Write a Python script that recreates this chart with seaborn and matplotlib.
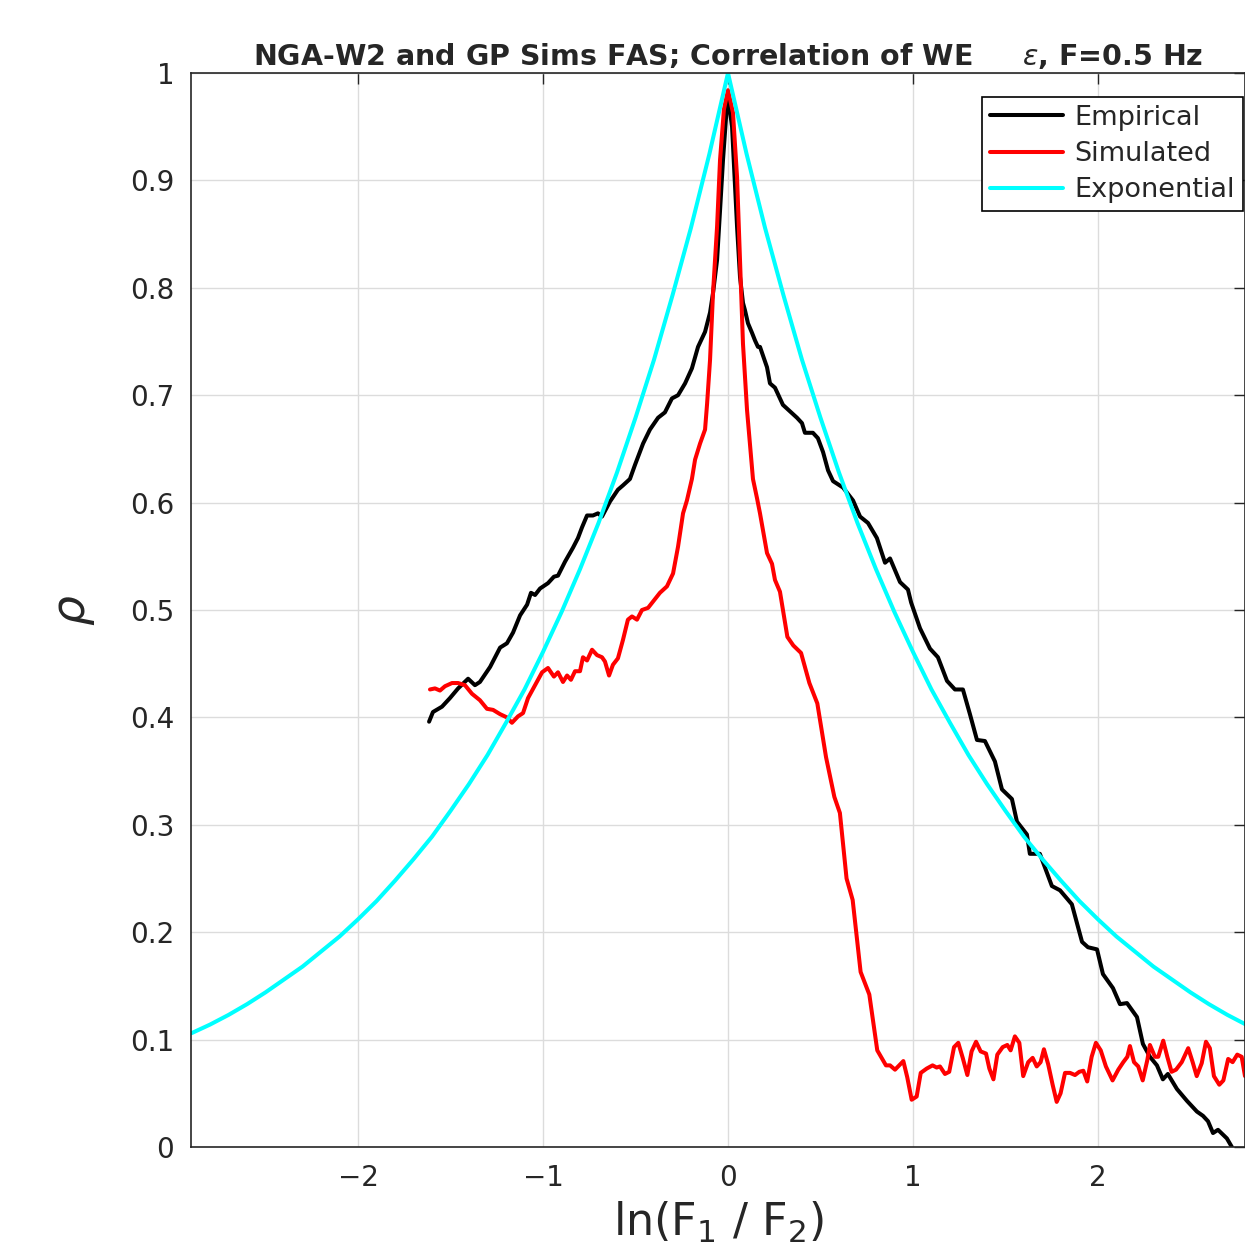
import numpy as np
import pandas as pd
import matplotlib
matplotlib.use("Agg")
import matplotlib.pyplot as plt
import seaborn as sns

# =======================
# Data
# =======================
emp_x = [-1.616, -1.595, -1.546, -1.503, -1.459, -1.405, -1.368, -1.341, -1.286, -1.232,
         -1.195, -1.162, -1.124, -1.086, -1.065, -1.043, -1.016, -0.973, -0.941, -0.919,
         -0.881, -0.838, -0.811, -0.789, -0.762, -0.730, -0.703, -0.681, -0.638, -0.595,
         -0.568, -0.530, -0.503, -0.459, -0.422, -0.378, -0.341, -0.303, -0.270, -0.232,
         -0.195, -0.162, -0.124, -0.097, -0.081, -0.059, -0.043, -0.027, -0.005, 0.000,
         0.022, 0.049, 0.065, 0.081, 0.092, 0.108, 0.130, 0.146, 0.162, 0.173,
         0.211, 0.227, 0.254, 0.297, 0.335, 0.373, 0.400, 0.416, 0.459, 0.486,
         0.514, 0.541, 0.568, 0.622, 0.676, 0.714, 0.757, 0.805, 0.849, 0.876,
         0.930, 0.973, 0.990, 1.038, 1.092, 1.135, 1.184, 1.227, 1.270, 1.308,
         1.346, 1.389, 1.443, 1.481, 1.535, 1.562, 1.616, 1.632, 1.686, 1.751,
         1.795, 1.859, 1.914, 1.946, 1.995, 2.027, 2.081, 2.119, 2.157, 2.211,
         2.243, 2.281, 2.319, 2.351, 2.378, 2.427, 2.481, 2.535, 2.568, 2.595,
         2.622, 2.649, 2.697, 2.724]
emp_y = [0.396, 0.405, 0.410, 0.418, 0.427, 0.436, 0.430, 0.433, 0.447, 0.465,
         0.469, 0.479, 0.495, 0.505, 0.516, 0.514, 0.520, 0.525, 0.531, 0.532,
         0.545, 0.558, 0.567, 0.577, 0.588, 0.588, 0.590, 0.587, 0.601, 0.612,
         0.616, 0.622, 0.635, 0.655, 0.668, 0.679, 0.684, 0.697, 0.700, 0.711,
         0.725, 0.745, 0.759, 0.777, 0.795, 0.826, 0.872, 0.919, 0.972, 0.978,
         0.950, 0.857, 0.810, 0.786, 0.779, 0.767, 0.758, 0.751, 0.745, 0.745,
         0.726, 0.711, 0.707, 0.691, 0.685, 0.679, 0.674, 0.665, 0.665, 0.660,
         0.647, 0.630, 0.620, 0.614, 0.602, 0.587, 0.581, 0.567, 0.544, 0.548,
         0.526, 0.519, 0.507, 0.483, 0.464, 0.456, 0.434, 0.426, 0.426, 0.403,
         0.379, 0.378, 0.359, 0.333, 0.324, 0.303, 0.291, 0.273, 0.273, 0.243,
         0.239, 0.226, 0.191, 0.186, 0.184, 0.161, 0.148, 0.133, 0.134, 0.121,
         0.096, 0.084, 0.076, 0.063, 0.068, 0.054, 0.043, 0.033, 0.029, 0.024,
         0.013, 0.016, 0.008, 0.000]

sim_x = [-1.611, -1.584, -1.557, -1.530, -1.492, -1.459, -1.422, -1.384, -1.341, -1.303,
         -1.270, -1.232, -1.195, -1.168, -1.135, -1.108, -1.081, -1.043, -1.005, -0.973,
         -0.941, -0.919, -0.892, -0.870, -0.849, -0.827, -0.800, -0.784, -0.762, -0.735,
         -0.708, -0.681, -0.665, -0.643, -0.622, -0.595, -0.568, -0.541, -0.519, -0.492,
         -0.465, -0.432, -0.395, -0.368, -0.330, -0.297, -0.270, -0.243, -0.222, -0.195,
         -0.178, -0.151, -0.124, -0.113, -0.097, -0.081, -0.059, -0.043, -0.022, 0.000,
         0.027, 0.049, 0.065, 0.081, 0.103, 0.135, 0.157, 0.173, 0.211, 0.238,
         0.254, 0.281, 0.321, 0.353, 0.395, 0.440, 0.483, 0.530, 0.575, 0.605,
         0.641, 0.674, 0.717, 0.764, 0.807, 0.854, 0.876, 0.903, 0.948, 0.969,
         0.993, 1.020, 1.042, 1.074, 1.106, 1.128, 1.146, 1.173, 1.196, 1.222,
         1.245, 1.269, 1.294, 1.317, 1.341, 1.366, 1.395, 1.413, 1.435, 1.456,
         1.485, 1.510, 1.528, 1.551, 1.575, 1.596, 1.623, 1.647, 1.669, 1.690,
         1.708, 1.731, 1.755, 1.777, 1.798, 1.822, 1.849, 1.876, 1.899, 1.921,
         1.942, 1.966, 1.989, 2.015, 2.043, 2.079, 2.110, 2.137, 2.159, 2.173,
         2.195, 2.218, 2.242, 2.267, 2.281, 2.308, 2.326, 2.353, 2.375, 2.398,
         2.422, 2.453, 2.488, 2.512, 2.534, 2.561, 2.584, 2.605, 2.627, 2.656,
         2.678, 2.704, 2.728, 2.753, 2.777, 2.795]
sim_y = [0.426, 0.427, 0.425, 0.429, 0.432, 0.432, 0.430, 0.422, 0.416, 0.408,
         0.407, 0.403, 0.400, 0.395, 0.401, 0.404, 0.418, 0.430, 0.442, 0.446,
         0.438, 0.442, 0.433, 0.439, 0.435, 0.443, 0.443, 0.456, 0.453, 0.463,
         0.458, 0.456, 0.452, 0.439, 0.449, 0.455, 0.472, 0.491, 0.494, 0.491,
         0.500, 0.502, 0.510, 0.516, 0.522, 0.534, 0.559, 0.590, 0.602, 0.622,
         0.640, 0.655, 0.668, 0.692, 0.733, 0.795, 0.857, 0.919, 0.966, 0.984,
         0.963, 0.903, 0.826, 0.748, 0.686, 0.622, 0.604, 0.590, 0.553, 0.543,
         0.528, 0.517, 0.475, 0.467, 0.460, 0.432, 0.413, 0.363, 0.326, 0.311,
         0.250, 0.230, 0.163, 0.142, 0.090, 0.076, 0.076, 0.072, 0.080, 0.065,
         0.044, 0.047, 0.069, 0.073, 0.076, 0.074, 0.075, 0.068, 0.070, 0.093,
         0.097, 0.083, 0.067, 0.089, 0.098, 0.089, 0.087, 0.073, 0.063, 0.086,
         0.093, 0.095, 0.090, 0.103, 0.097, 0.066, 0.079, 0.083, 0.075, 0.079,
         0.091, 0.077, 0.058, 0.042, 0.050, 0.069, 0.069, 0.067, 0.070, 0.071,
         0.061, 0.084, 0.097, 0.090, 0.075, 0.062, 0.072, 0.079, 0.084, 0.094,
         0.079, 0.075, 0.062, 0.081, 0.095, 0.084, 0.084, 0.099, 0.084, 0.070,
         0.072, 0.079, 0.092, 0.079, 0.066, 0.078, 0.098, 0.092, 0.066, 0.058,
         0.062, 0.082, 0.079, 0.086, 0.084, 0.066]

exp_x = [-2.9, -2.8, -2.7, -2.6, -2.5, -2.4, -2.3, -2.2, -2.1, -2.0,
         -1.9, -1.8, -1.7, -1.6, -1.5, -1.4, -1.3, -1.2, -1.1, -1.0,
         -0.9, -0.8, -0.7, -0.6, -0.5, -0.4, -0.3, -0.2, -0.1, 0.0,
         0.1, 0.2, 0.3, 0.4, 0.5, 0.6, 0.7, 0.8, 0.9, 1.0,
         1.1, 1.2, 1.3, 1.4, 1.5, 1.6, 1.7, 1.8, 1.9, 2.0,
         2.1, 2.2, 2.3, 2.4, 2.5, 2.6, 2.7, 2.8]
exp_y = [0.106, 0.114, 0.123, 0.133, 0.144, 0.156, 0.168, 0.182, 0.196, 0.212,
         0.229, 0.248, 0.268, 0.289, 0.313, 0.338, 0.365, 0.395, 0.426, 0.461,
         0.498, 0.538, 0.581, 0.628, 0.679, 0.733, 0.793, 0.856, 0.925, 1.000,
         0.925, 0.856, 0.793, 0.733, 0.679, 0.628, 0.581, 0.538, 0.498, 0.461,
         0.426, 0.395, 0.365, 0.338, 0.313, 0.289, 0.268, 0.248, 0.229, 0.212,
         0.196, 0.182, 0.168, 0.156, 0.144, 0.133, 0.123, 0.114]

x_ticks = [-2, -1, 0, 1, 2]
y_ticks = [0, 0.1, 0.2, 0.3, 0.4, 0.5, 0.6, 0.7, 0.8, 0.9, 1]
y_ticklabels = ["0", "0.1", "0.2", "0.3", "0.4", "0.5", "0.6", "0.7", "0.8", "0.9", "1"]

# =======================
# Plot
# =======================
sns.set_style("whitegrid")
plt.rcParams['font.family'] = ['DejaVu Sans']

fig = plt.figure(figsize=(12.45, 12.51), dpi=100)
ax = fig.add_axes([191 / 1245, 104 / 1251, 1054 / 1245, 1074 / 1251])

lw = 2.9
sns.lineplot(x=emp_x, y=emp_y, ax=ax, color="black", lw=lw, sort=False,
             estimator=None, label="Empirical")
sns.lineplot(x=sim_x, y=sim_y, ax=ax, color="red", lw=lw, sort=False,
             estimator=None, label="Simulated")
sns.lineplot(x=exp_x, y=exp_y, ax=ax, color="cyan", lw=lw, sort=False,
             estimator=None, label="Exponential")

ax.set_xlim(-2.903, 2.795)
ax.set_ylim(0, 1)
ax.set_xticks(x_ticks)
ax.set_yticks(y_ticks)
ax.set_yticklabels(y_ticklabels)
ax.grid(True, color="#dcdcdc", lw=1)
ax.tick_params(axis="both", direction="in", length=8, width=1, colors="#262626",
               labelsize=20, top=True, right=True, pad=12)
for s in ax.spines.values():
    s.set_color("#262626")
    s.set_linewidth(1.2)

ax.set_xlabel(r"ln(F$_1$ / F$_2$)", fontsize=32, color="#262626", labelpad=6)
ax.set_ylabel(r"$\rho$", fontsize=34, color="#262626", labelpad=24)
ax.set_title(r"NGA-W2 and GP Sims FAS; Correlation of WE     $\epsilon$, F=0.5 Hz",
             fontsize=20.5, fontweight="bold", pad=6, x=0.51)

leg = ax.legend(loc="upper right", fontsize=19.5, frameon=True, fancybox=False,
                edgecolor="black", framealpha=1, handlelength=2.7,
                borderaxespad=0.0, bbox_to_anchor=(0.998, 0.978),
                labelspacing=0.38, handletextpad=0.4, borderpad=0.3)
leg.get_frame().set_linewidth(1.2)

fig.savefig("out.png", dpi=100, facecolor="white")
